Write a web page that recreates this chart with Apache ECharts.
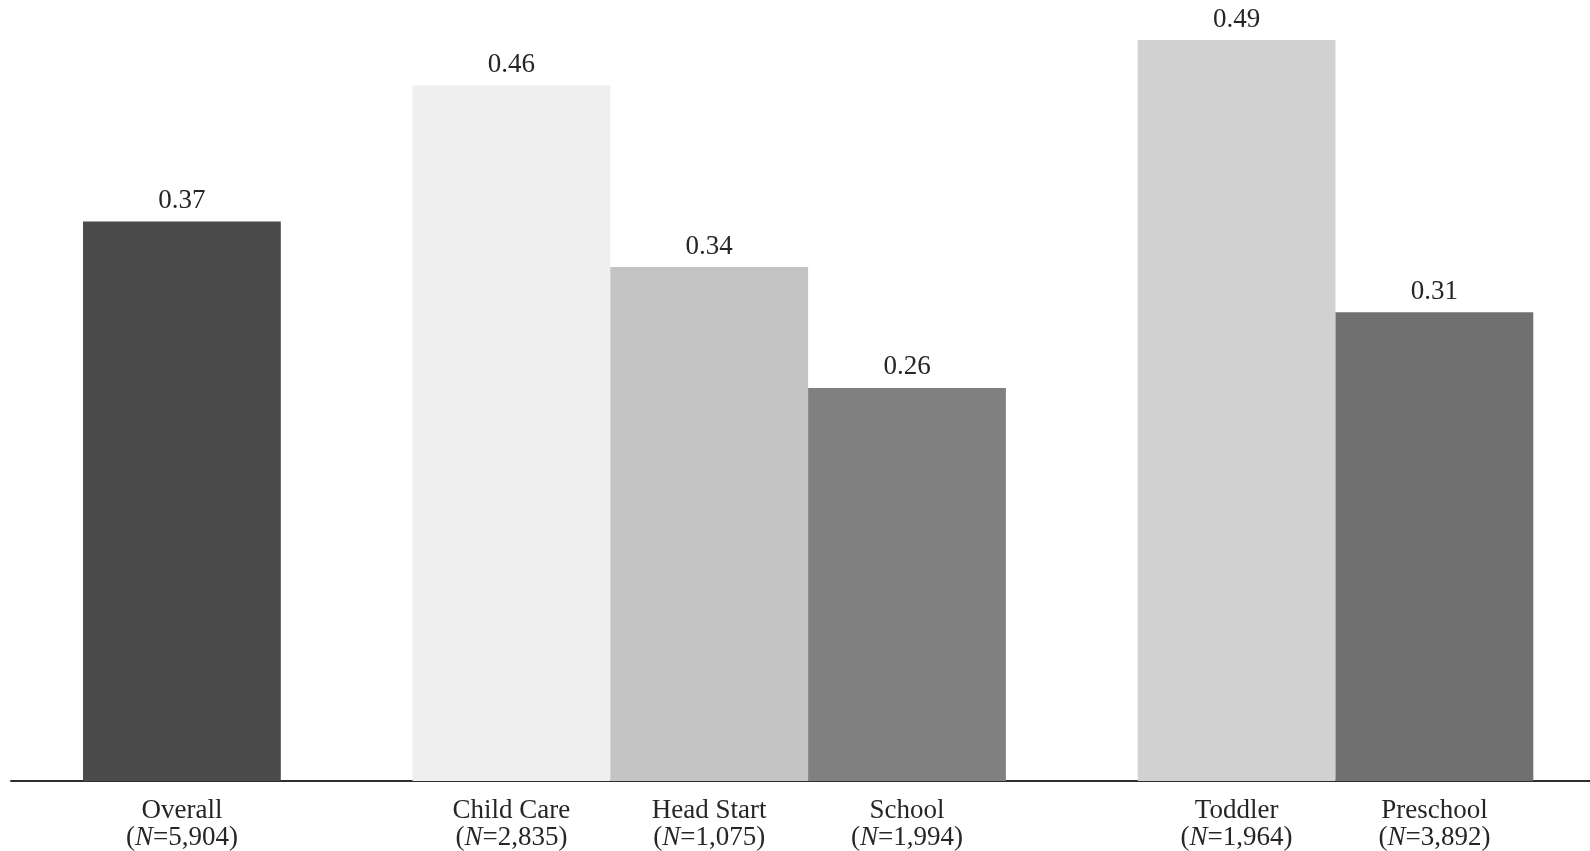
<!DOCTYPE html>
<html>
<head>
<meta charset="utf-8">
<script src="https://cdn.jsdelivr.net/npm/echarts@6/dist/echarts.min.js"></script>
<style>
  html, body { margin: 0; padding: 0; background: #ffffff; }
  #chart { width: 1590px; height: 851px; }
</style>
</head>
<body>
<div id="chart"></div>
<script>
// Setting groups: overall, by program type, by age group
const categories = ['Overall', 'Child Care', 'Head Start', 'School', 'Toddler', 'Preschool'];
const sampleSizes = ['5,904', '2,835', '1,075', '1,994', '1,964', '3,892'];
const values = [0.37, 0.46, 0.34, 0.26, 0.49, 0.31];
const groupSizes = [1, 3, 2];
const barColors = ['#4b4b4b', '#efefef', '#c4c4c4', '#808080', '#d1d1d1', '#707070'];

// Layout: each group gets its own grid so the gaps between groups can differ
const barWidth = 197.8;
const groupLeft = [83, 412.5, 1137.7];
const gridTop = 25;
const gridBottom = 70;
const fontFamily = 'Liberation Serif';
const textColor = '#262626';

const chart = echarts.init(document.getElementById('chart'));

const grids = [];
const xAxes = [];
const yAxes = [];
const series = [];

const labelText = { fontFamily, fontSize: 27, lineHeight: 27, color: textColor };

let start = 0;
groupSizes.forEach((n, g) => {
  const cats = categories.slice(start, start + n);
  const ns = sampleSizes.slice(start, start + n);
  const vals = values.slice(start, start + n);
  const cols = barColors.slice(start, start + n);
  grids.push({
    left: groupLeft[g], top: gridTop, bottom: gridBottom, width: barWidth * n,
    outerBoundsMode: 'none', containLabel: false
  });
  xAxes.push({
    type: 'category',
    gridIndex: g,
    data: cats,
    axisLine: { show: false },
    axisTick: { show: false },
    axisLabel: {
      margin: 16,
      interval: 0,
      formatter: (v, i) => '{t|' + v + '}\n{p|(}{i|N}{p|=' + ns[i] + ')}',
      rich: {
        t: labelText,
        p: labelText,
        i: Object.assign({}, labelText, { fontStyle: 'italic' })
      }
    }
  });
  yAxes.push({
    type: 'value',
    gridIndex: g,
    min: 0,
    max: 0.5,
    show: false,
    splitLine: { show: false }
  });
  series.push({
    type: 'bar',
    xAxisIndex: g,
    yAxisIndex: g,
    barCategoryGap: '0%',
    data: vals.map((v, i) => ({ value: v, itemStyle: { color: cols[i] } })),
    label: {
      show: true,
      position: 'top',
      distance: 7,
      fontFamily,
      fontSize: 27,
      color: textColor,
      formatter: p => p.value.toFixed(2)
    }
  });
  start += n;
});

// Baseline running across the whole chart
grids.push({
  left: 11, right: 0, top: gridTop, bottom: gridBottom,
  outerBoundsMode: 'none', containLabel: false
});
xAxes.push({
  type: 'value',
  gridIndex: groupSizes.length,
  min: 0,
  max: 1,
  axisLine: { show: true, onZero: false, lineStyle: { color: '#2e2e2e', width: 2 } },
  axisTick: { show: false },
  axisLabel: { show: false },
  splitLine: { show: false }
});
yAxes.push({ type: 'value', gridIndex: groupSizes.length, show: false, splitLine: { show: false } });

chart.setOption({
  backgroundColor: '#ffffff',
  animation: false,
  grid: grids,
  xAxis: xAxes,
  yAxis: yAxes,
  series: series
});
</script>
</body>
</html>
